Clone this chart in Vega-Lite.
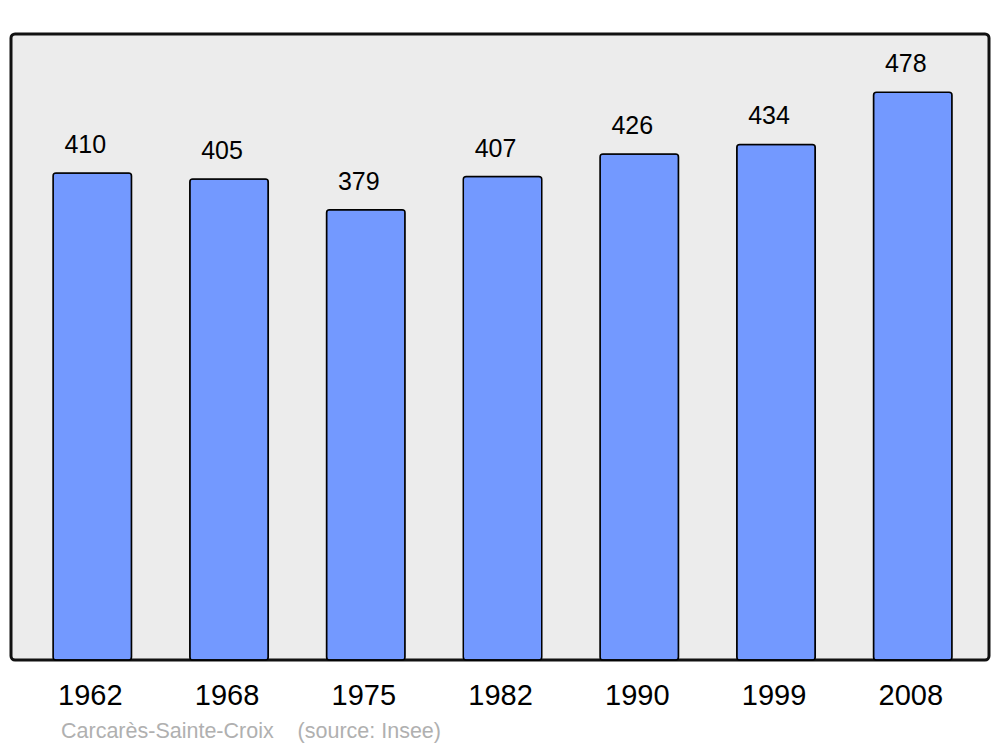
{
  "$schema": "https://vega.github.io/schema/vega-lite/v6.json",
  "width": 978,
  "height": 626,
  "autosize": {"type": "none"},
  "padding": {"left": 11, "top": 34, "right": 11, "bottom": 87},
  "background": "white",
  "config": {
    "font": "Liberation Sans",
    "view": {"stroke": "#111111", "strokeWidth": 3, "fill": "#ececec", "cornerRadius": 4}
  },
  "title": {
    "text": "Carcarès-Sainte-Croix\u00a0\u00a0\u00a0\u00a0(source: Insee)",
    "orient": "bottom",
    "anchor": "start",
    "dx": 50,
    "offset": 11,
    "color": "#b0b0b0",
    "fontSize": 21.5,
    "fontWeight": "normal",
    "font": "Liberation Sans"
  },
  "data": {
    "values": [
      {"year": "1962", "pop": 410},
      {"year": "1968", "pop": 405},
      {"year": "1975", "pop": 379},
      {"year": "1982", "pop": 407},
      {"year": "1990", "pop": 426},
      {"year": "1999", "pop": 434},
      {"year": "2008", "pop": 478}
    ]
  },
  "encoding": {
    "x": {
      "field": "year",
      "type": "ordinal",
      "scale": {"paddingInner": 0.426, "paddingOuter": 0.289, "align": 0.532},
      "axis": {"title": null, "ticks": false, "domain": false, "labelAngle": 0, "labelFontSize": 29, "labelColor": "black", "labelPadding": 21, "labelOffset": -2, "labelFont": "Liberation Sans"}
    },
    "y": {
      "field": "pop",
      "type": "quantitative",
      "scale": {"domain": [0, 527], "nice": false, "zero": true},
      "axis": null
    }
  },
  "layer": [
    {"mark": {"type": "bar", "fill": "#7399ff", "stroke": "black", "strokeWidth": 1.5, "cornerRadius": 3}},
    {"mark": {"type": "text", "fontSize": 25, "dx": -7, "dy": -15, "baseline": "bottom", "color": "black", "font": "Liberation Sans"}, "encoding": {"text": {"field": "pop"}}}
  ]
}
